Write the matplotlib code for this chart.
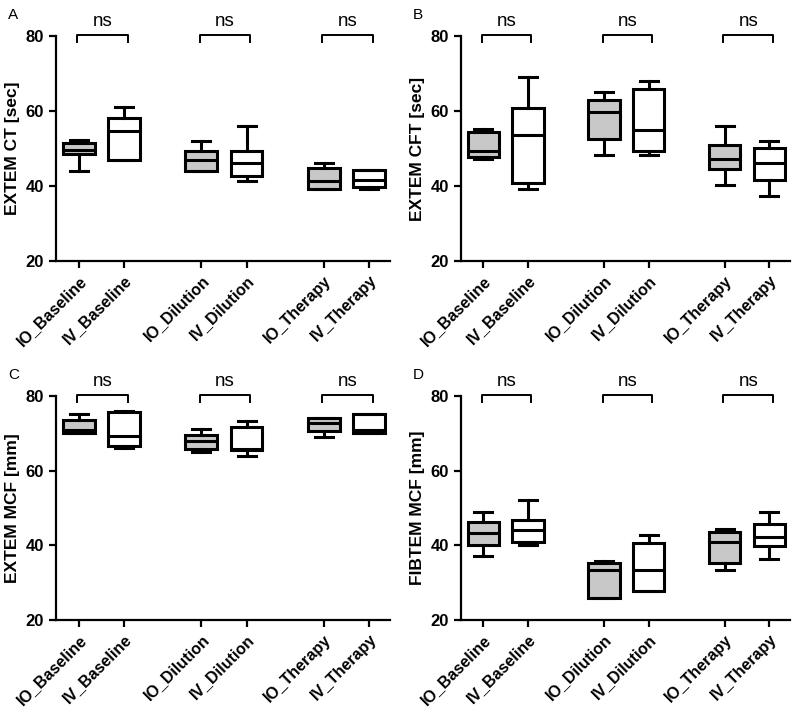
import matplotlib
matplotlib.use('Agg')
import matplotlib.pyplot as plt

plt.rcParams['font.family'] = ['Liberation Sans', 'DejaVu Sans']

groups = ['IO_Baseline', 'IV_Baseline', 'IO_Dilution', 'IV_Dilution', 'IO_Therapy', 'IV_Therapy']
positions = [0, 1, 2.7, 3.7, 5.4, 6.4]
fills = ['#c8c8c8', 'white', '#c8c8c8', 'white', '#c8c8c8', 'white']

# each row: [whisker low, q1, median, q3, whisker high] per group
ct_vals = [
    [44.0, 48.4, 49.7, 51.5, 52.3],
    [47.0, 47.0, 54.7, 58.1, 61.0],
    [44.0, 44.0, 46.8, 49.2, 52.1],
    [41.2, 42.7, 46.0, 49.4, 56.0],
    [39.1, 39.1, 41.2, 44.7, 46.1],
    [39.2, 39.8, 41.7, 44.2, 44.2],
]
cft_vals = [
    [47.1, 47.8, 49.2, 54.4, 55.1],
    [39.1, 40.7, 53.7, 60.9, 69.0],
    [48.2, 52.4, 59.6, 62.9, 65.1],
    [48.2, 49.4, 55.0, 65.8, 68.0],
    [40.2, 44.4, 47.1, 50.8, 56.1],
    [37.2, 41.5, 46.1, 50.0, 52.1],
]
mcf_vals = [
    [70.0, 70.0, 70.9, 73.6, 75.1],
    [66.0, 66.7, 69.3, 75.6, 76.0],
    [65.1, 65.8, 67.8, 69.6, 71.1],
    [64.0, 65.5, 65.8, 71.6, 73.2],
    [69.0, 70.5, 72.7, 74.2, 74.2],
    [70.0, 70.0, 70.8, 75.2, 75.2],
]
fib_vals = [
    [37.2, 40.2, 43.4, 46.2, 49.0],
    [40.2, 40.9, 44.2, 46.9, 52.1],
    [25.8, 25.8, 33.3, 35.2, 35.9],
    [27.9, 27.9, 33.4, 40.7, 42.9],
    [33.3, 35.4, 40.9, 43.6, 44.3],
    [36.3, 39.8, 42.2, 45.6, 49.0],
]

panels = [
    ('A', 'EXTEM CT [sec]', ct_vals, [0.07, 0.631, 0.4175, 0.318]),
    ('B', 'EXTEM CFT [sec]', cft_vals, [0.576, 0.631, 0.4115, 0.318]),
    ('C', 'EXTEM MCF [mm]', mcf_vals, [0.07, 0.123, 0.4175, 0.317]),
    ('D', 'FIBTEM MCF [mm]', fib_vals, [0.576, 0.123, 0.4115, 0.317]),
]

fig = plt.figure(figsize=(8, 7.07), dpi=100)
lw = 2.2

for letter, ylabel, vals, rect in panels:
    ax = fig.add_axes(rect)
    stats = []
    for v in vals:
        stats.append({'whislo': v[0], 'q1': v[1], 'med': v[2], 'q3': v[3],
                      'whishi': v[4], 'fliers': []})
    bp = ax.bxp(stats, positions=positions, widths=0.7, patch_artist=True,
                showfliers=False, capwidths=0.4,
                boxprops=dict(linewidth=lw, edgecolor='black'),
                medianprops=dict(linewidth=lw, color='black'),
                whiskerprops=dict(linewidth=lw, color='black'),
                capprops=dict(linewidth=lw, color='black'))
    for patch, c in zip(bp['boxes'], fills):
        patch.set_facecolor(c)

    ax.set_xlim(-0.5, 6.86)
    ax.set_ylim(20, 80)
    ax.set_yticks([20, 40, 60, 80])
    ax.set_xticks(positions)
    ax.set_xticklabels(groups, rotation=45, ha='right', rotation_mode='anchor',
                       fontsize=11.5, fontweight='bold')
    for lab in ax.get_yticklabels():
        lab.set_fontweight('bold')
        lab.set_fontsize(12)
    ax.spines['top'].set_visible(False)
    ax.spines['right'].set_visible(False)
    ax.spines['left'].set_linewidth(1.6)
    ax.spines['bottom'].set_linewidth(1.6)
    ax.tick_params(axis='both', width=1.6, length=5)
    ax.set_ylabel(ylabel, fontsize=12.5, fontweight='bold')

    # significance brackets
    for k in range(3):
        x0 = positions[2 * k] - 0.03
        x1 = positions[2 * k + 1] + 0.08
        ax.plot([x0, x0, x1, x1], [78.3, 80.3, 80.3, 78.3], color='black',
                lw=1.4, clip_on=False)
        ax.text((x0 + x1) / 2, 81.5, 'ns', ha='center', va='bottom',
                fontsize=13.5, clip_on=False)

    fig.text(rect[0] - 0.06, rect[1] + rect[3] + 0.03, letter, fontsize=11,
             ha='left', va='center')

fig.savefig('out.png', dpi=100)
